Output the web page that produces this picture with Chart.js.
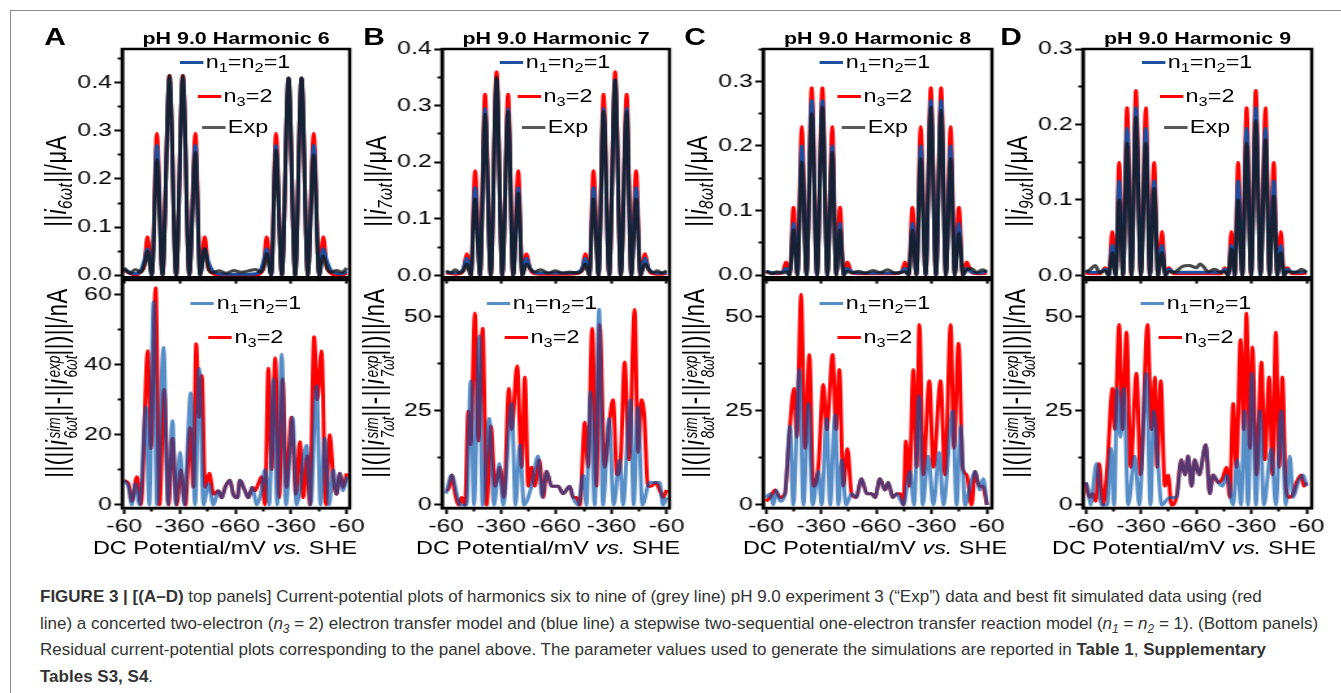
<!DOCTYPE html>
<html>
<head>
<meta charset="utf-8">
<script src="https://cdn.jsdelivr.net/npm/chart.js@4.4.0/dist/chart.umd.min.js"></script>
<style>
  html, body { margin: 0; padding: 0; background: #fff; }
  body { width: 1341px; height: 693px; position: relative; overflow: hidden;
         font-family: "Liberation Sans", Arial, Helvetica, sans-serif; }
  #frame { position: absolute; left: 10px; top: 10px; width: 1340px; height: 700px;
           border-left: 1.5px solid #8c8c8c; border-top: 1.5px solid #8c8c8c; }
  /* the source figure is stretched sideways, so the whole figure is too */
  #fig { position: absolute; left: 0; top: 0; width: 1032px; height: 570px;
         transform: scaleX(1.3); transform-origin: 0 0; }
  #fig canvas { position: absolute; }
  .t { position: absolute; white-space: nowrap; line-height: 1; color: #000;
       transform: translate(-50%, -50%); }
  .letter { font-weight: bold; font-size: 23px; }
  .title { font-weight: bold; font-size: 16.5px; }
  .xt { font-size: 18px; }
  .yt { font-size: 22px; letter-spacing: 0.5px; transform: translate(-50%, -50%) rotate(-90deg); }
  .leg { display: flex; align-items: center; font-size: 18px; }
  .sw { display: inline-block; width: 18px; height: 3px; margin-right: 2px; }
  sub { font-size: 0.7em; vertical-align: -0.3em; line-height: 0; }
  .ss { display: inline-flex; flex-direction: column; font-size: 0.62em; line-height: 0.95;
        vertical-align: 0.35em; margin-left: 1px; letter-spacing: 0; }
  #cap { position: absolute; left: 40px; top: 584px; font-size: 17px; line-height: 26.7px;
         color: #333; white-space: nowrap; }
</style>
</head>
<body>
<div id="frame"></div>
<div id="fig"></div>
<div id="cap">
  <div><b>FIGURE 3 | [(A–D)</b> top panels] Current-potential plots of harmonics six to nine of (grey line) pH 9.0 experiment 3 (“Exp”) data and best fit simulated data using (red</div>
  <div>line) a concerted two-electron (<i>n</i><sub><i>3</i></sub> = 2) electron transfer model and (blue line) a stepwise two-sequential one-electron transfer reaction model (<i>n</i><sub><i>1</i></sub> = <i>n</i><sub><i>2</i></sub> = 1). (Bottom panels)</div>
  <div>Residual current-potential plots corresponding to the panel above. The parameter values used to generate the simulations are reported in <b>Table 1</b>, <b>Supplementary</b></div>
  <div><b>Tables S3, S4</b>.</div>
</div>
<script>
// ----- x axis: swept potential, 0..1200 mV of travel (forward then back) -----
const X_TICKS = [0, 150, 300, 450, 600, 750, 900, 1050, 1200];
const X_TICK_LABELS = ['-60', '', '-360', '', '-660', '', '-360', '', '-60'];

// ----- top panels: harmonic envelopes (µA) -----
const H6_P = [0,30,60,90,108,125,149,176,206,244,280,316,351,384,409,434,452,475,510,550,590,630,670,710,735,752,768,793,818,850,886,922,956,990,1022,1051,1073,1092,1115,1145,1175,1200];
const H6_N3 = [0.01,0.004,0,0.008,0.02,0.08,0,0.295,0,0.415,0,0.415,0,0.295,0,0.08,0.02,0.004,0,0,0,0,0,0,0.004,0.02,0.08,0,0.295,0,0.41,0,0.41,0,0.295,0,0.08,0.02,0.004,0,0,0.004];
const H6_N1N2 = [0.012,0.006,0.003,0.01,0.03,0.055,0,0.27,0,0.41,0,0.41,0,0.27,0,0.055,0.03,0.01,0.003,0.002,0.002,0.002,0.002,0.003,0.01,0.03,0.055,0,0.27,0,0.41,0,0.41,0,0.27,0,0.055,0.03,0.01,0.004,0.003,0.008];
const H6_EXP = [0.015,0.004,0.012,0.006,0.02,0.05,0,0.24,0,0.415,0,0.415,0,0.255,0,0.055,0.015,0.005,0.009,0.004,0.01,0.006,0.009,0.012,0.006,0.015,0.045,0,0.26,0,0.41,0,0.41,0,0.25,0,0.04,0.015,0.006,0.01,0.006,0.015];

const H7_P = [0,25,50,75,95,112,135,158,185,212,243,275,306,338,365,393,415,438,458,480,515,555,595,635,675,710,740,757,780,802,830,857,888,920,951,983,1008,1034,1058,1083,1102,1125,1150,1175,1200];
const H7_N3 = [0.004,0.003,0.002,0.003,0.01,0.038,0,0.185,0,0.32,0,0.36,0,0.32,0,0.185,0,0.038,0.01,0.003,0.002,0.002,0.002,0.002,0.002,0.003,0.01,0.038,0,0.185,0,0.32,0,0.36,0,0.32,0,0.185,0,0.038,0.01,0.003,0.002,0.002,0.003];
const H7_N1N2 = [0.006,0.005,0.004,0.005,0.012,0.03,0,0.155,0,0.295,0,0.345,0,0.295,0,0.155,0,0.03,0.012,0.005,0.004,0.004,0.004,0.004,0.004,0.005,0.012,0.03,0,0.155,0,0.295,0,0.345,0,0.295,0,0.155,0,0.03,0.012,0.005,0.004,0.004,0.005];
const H7_EXP = [0.008,0.004,0.01,0.004,0.008,0.02,0,0.135,0,0.285,0,0.35,0,0.29,0,0.145,0,0.02,0.012,0.006,0.01,0.004,0.008,0.004,0.006,0.004,0.008,0.02,0,0.135,0,0.29,0,0.345,0,0.29,0,0.135,0,0.02,0.01,0.005,0.008,0.004,0.008];

const H8_P = [0,30,60,90,109,128,149,170,194,220,248,277,306,333,360,381,402,421,441,465,500,540,580,620,660,700,735,755,775,795,817,840,867,895,923,951,977,1003,1025,1048,1069,1090,1115,1145,1175,1200];
const H8_N3 = [0.005,0.003,0.002,0.005,0.02,0,0.105,0,0.23,0,0.29,0,0.29,0,0.23,0,0.105,0,0.02,0.004,0.002,0.002,0.002,0.002,0.002,0.002,0.004,0.02,0,0.105,0,0.23,0,0.29,0,0.29,0,0.23,0,0.105,0,0.02,0.004,0.002,0.002,0.003];
const H8_N1N2 = [0.006,0.004,0.003,0.005,0.01,0,0.08,0,0.2,0,0.27,0,0.27,0,0.2,0,0.08,0,0.01,0.005,0.003,0.003,0.003,0.003,0.003,0.003,0.005,0.01,0,0.08,0,0.2,0,0.27,0,0.27,0,0.2,0,0.08,0,0.01,0.005,0.003,0.004,0.006];
const H8_EXP = [0.006,0.002,0.005,0.003,0.005,0,0.07,0,0.175,0,0.25,0,0.26,0,0.19,0,0.07,0,0.006,0.003,0.006,0.003,0.007,0.004,0.008,0.003,0.004,0.005,0,0.07,0,0.18,0,0.26,0,0.255,0,0.18,0,0.065,0,0.008,0.01,0.004,0.008,0.005];

const H9_P = [0,25,50,75,105,125,143,162,181,202,224,248,272,299,326,348,371,392,414,432,450,480,525,561,601,620,637,664,700,735,755,773,791,809,827,850,873,898,923,949,976,998,1021,1040,1059,1077,1095,1120,1150,1171,1200];
const H9_N3 = [0.003,0.002,0.002,0.002,0.01,0,0.058,0,0.15,0,0.222,0,0.245,0,0.222,0,0.15,0,0.058,0,0.01,0.002,0.002,0.002,0.002,0.002,0.002,0.002,0.002,0.002,0.01,0,0.058,0,0.15,0,0.222,0,0.245,0,0.222,0,0.15,0,0.058,0,0.01,0.002,0.002,0.002,0.003];
const H9_N1N2 = [0.006,0.004,0.004,0.004,0.008,0,0.04,0,0.125,0,0.195,0,0.222,0,0.195,0,0.125,0,0.04,0,0.008,0.004,0.004,0.004,0.004,0.004,0.004,0.004,0.004,0.004,0.008,0,0.04,0,0.125,0,0.195,0,0.222,0,0.195,0,0.125,0,0.04,0,0.008,0.004,0.004,0.004,0.005];
const H9_EXP = [0.004,0.008,0.013,0.004,0.006,0,0.03,0,0.1,0,0.175,0,0.21,0,0.175,0,0.115,0,0.03,0,0.005,0.004,0.012,0.013,0.01,0.015,0.012,0.005,0.008,0.004,0.005,0,0.035,0,0.1,0,0.175,0,0.205,0,0.18,0,0.105,0,0.03,0,0.005,0.004,0.005,0.008,0.004];

// ----- bottom panels: residuals (nA) -----
const R6_N3_P = [0,23,41,68,90,127,144,169,190,215,239,260,283,305,330,355,373,388,404,418,436,459,481,508,526,544,570,588,610,624,651,669,691,705,723,741,759,777,795,814,836,854,875,902,926,947,965,987,1001,1024,1041,1064,1087,1109,1127,1145,1163,1180,1200];
const R6_N3 = [7,6,1,8,0,44,16,62,0,33,0,19,0,10,0,22,5,46,25,37,5,9,3,4,2,5,7,3,2,7,4,2,5,4,6,8,0,39,10,42,2,36,5,25,3,18,2,14,0,48,30,44,0,20,8,3,9,5,9];
const R6_N1N2_P = [0,23,41,59,83,117,135,158,176,212,235,260,278,301,323,359,382,404,427,454,481,508,526,544,570,588,610,624,651,669,691,714,736,759,782,804,825,849,872,908,929,983,1005,1037,1058,1082,1105,1127,1145,1163,1180,1200];
const R6_N1N2 = [7,5,0,6,0,28,0,58,0,45,0,24,0,15,0,32,0,39,0,6,0,4,2,5,7,3,2,7,4,2,5,0,3,10,0,36,0,43,0,25,0,17,0,34,0,19,0,10,3,9,4,8];

const R7_N3_P = [0,13,31,49,67,85,103,121,134,157,176,199,221,244,266,293,315,342,357,387,411,429,447,465,483,507,529,547,574,610,637,673,691,710,728,755,773,795,818,836,863,891,909,930,950,972,996,1026,1045,1063,1078,1099,1117,1140,1162,1180,1200];
const R7_N3 = [4,4,8,3,0,2,0,25,16,51,17,47,0,21,5,10,2,31,20,37,10,34,5,10,5,12,2,9,5,5,3,5,2,2,0,22,10,47,5,48,10,23,28,8,12,38,12,52,14,28,24,5,5,6,4,2,4];
const R7_N1N2_P = [0,31,58,76,112,134,152,181,199,235,261,290,311,357,378,402,424,465,501,523,547,574,610,637,673,691,719,746,764,786,809,833,854,887,912,945,963,1003,1021,1044,1068,1108,1135,1162,1180,1200];
const R7_N1N2 = [3,8,3,0,0,33,0,45,0,23,0,11,0,27,0,16,0,5,13,2,9,5,5,3,5,2,0,8,0,30,0,52,0,23,0,12,0,28,0,26,0,6,6,6,0,2];

const R8_N3_P = [0,22,49,76,103,121,152,167,190,212,235,257,284,311,329,362,380,398,420,442,465,489,519,547,574,592,619,646,664,688,710,731,746,760,778,800,818,833,854,887,909,948,972,1003,1021,1046,1068,1090,1117,1135,1158,1177,1200];
const R8_N3 = [1,2,4,2,3,15,31,18,56,15,40,5,10,32,20,40,20,36,5,15,3,2,7,3,3,2,7,4,6,2,3,3,0,17,5,36,10,48,8,33,10,33,8,48,15,43,10,8,0,9,5,5,0];
const R8_N1N2_P = [0,22,40,54,76,103,130,148,181,203,230,253,284,302,329,348,375,393,411,434,465,489,519,547,574,592,619,646,664,688,710,746,782,804,831,851,881,909,941,963,1014,1035,1057,1081,1108,1135,1162,1180,1200];
const R8_N1N2 = [2,3,0,4,1,3,21,0,36,0,27,0,9,0,23,0,24,0,12,0,3,2,7,3,3,2,7,4,6,2,3,0,9,0,29,0,13,0,14,0,25,0,21,0,5,9,4,7,0];

const R9_N3_P = [0,18,36,54,72,94,116,145,157,181,199,221,243,275,297,335,357,375,387,407,429,447,465,492,519,538,556,574,592,615,652,673,691,719,742,764,782,800,818,840,858,872,891,905,927,954,972,996,1014,1032,1050,1068,1086,1104,1126,1144,1171,1184,1200];
const R9_N3 = [6,2,3,1,11,0,10,31,20,48,20,46,10,35,8,48,20,34,10,33,5,8,0,2,12,8,13,5,12,8,16,3,8,6,7,10,2,27,10,44,20,51,15,42,8,38,12,34,8,46,10,34,5,2,3,6,8,5,6];
const R9_N1N2_P = [0,13,25,58,85,116,136,154,170,188,206,230,266,290,329,351,369,393,411,456,492,519,538,556,574,592,615,652,673,691,719,742,764,800,822,843,863,881,902,924,945,967,1008,1032,1062,1086,1108,1126,1153,1180,1200];
const R9_N1N2 = [6,4,0,11,0,0,15,0,31,18,31,0,13,0,35,0,25,10,0,2,2,12,8,13,5,12,8,16,3,8,6,5,8,0,12,0,25,0,35,0,25,0,15,0,25,0,13,2,6,8,5];

// ----- y ticks ('' = minor tick) -----
const H6_YT = [0,0.05,0.1,0.15,0.2,0.25,0.3,0.35,0.4,0.45];
const H6_YL = ['0.0','','0.1','','0.2','','0.3','','0.4',''];
const H7_YT = [0,0.05,0.1,0.15,0.2,0.25,0.3,0.35,0.4];
const H7_YL = ['0.0','','0.1','','0.2','','0.3','','0.4'];
const H8_YT = [0,0.05,0.1,0.15,0.2,0.25,0.3,0.35];
const H8_YL = ['0.0','','0.1','','0.2','','0.3',''];
const H9_YT = [0,0.05,0.1,0.15,0.2,0.25,0.3];
const H9_YL = ['0.0','','0.1','','0.2','','0.3'];
const R6_YT = [0,10,20,30,40,50,60];
const R6_YL = ['0','','20','','40','','60'];
const R_YT = [0,12.5,25,37.5,50];
const R_YL = ['0','','25','','50'];

// ----- look -----
const S = 1.3;
const RED = '#ff0000';
const NAVY = '#1b4f9f';
const EXP = 'rgba(20,20,20,0.78)';
const SKY = 'rgba(0,84,170,0.66)';
Chart.defaults.font.family = '"Liberation Sans", Arial, Helvetica, sans-serif';
Chart.defaults.color = '#000';

const fig = document.getElementById('fig');

const frame = {
  id: 'frame',
  afterDraw(c) {
    const { ctx, chartArea: a } = c;
    ctx.save();
    ctx.strokeStyle = '#000';
    ctx.lineWidth = 2.5;
    ctx.strokeRect(a.left, a.top, a.right - a.left, a.bottom - a.top);
    ctx.restore();
  }
};

const pts = (xs, ys) => xs.map((x, i) => ({ x, y: ys[i] }));
const line = (data, color, order) => ({
  data, borderColor: color, borderWidth: 3, pointRadius: 0, fill: false,
  cubicInterpolationMode: 'monotone', order
});
const majors = (vals, labels) => vals.filter((v, i) => labels[i] !== '');
const minors = (vals, labels) => vals.filter((v, i) => labels[i] === '');

function plot(box, xr, yr, yt, yl, datasets, showX) {
  const padT = 14, padR = 24, padL = 42, padB = showX ? 36 : 12;
  const w = Math.round((box.R - box.L) / S);
  const cv = document.createElement('canvas');
  cv.width = padL + w + padR;
  cv.height = padT + (box.B - box.T) + padB;
  cv.style.left = (box.L / S - padL) + 'px';
  cv.style.top = (box.T - padT) + 'px';
  fig.appendChild(cv);

  const xMaj = majors(X_TICKS, X_TICK_LABELS), xLab = X_TICK_LABELS.filter((l) => l !== '');
  const yMaj = majors(yt, yl), yLab = yl.filter((l) => l !== '');
  const major = { drawOnChartArea: false, tickLength: 6, tickWidth: 2, tickColor: '#000' };
  const minor = { drawOnChartArea: false, tickLength: 3.5, tickWidth: 2, tickColor: '#000' };

  new Chart(cv, {
    type: 'line',
    data: { datasets },
    options: {
      responsive: false, animation: false, events: [],
      layout: { padding: { top: padT, right: padR, left: 0, bottom: 0 } },
      plugins: { legend: { display: false }, tooltip: { enabled: false } },
      scales: {
        x: {
          type: 'linear', min: xr[0], max: xr[1], weight: 1,
          afterFit: (s) => { s.height = padB; },
          afterBuildTicks: (s) => { s.ticks = xMaj.map((v) => ({ value: v })); },
          ticks: { autoSkip: false, maxRotation: 0, padding: 1, font: { size: 19 },
                   callback: (v, i) => (showX ? xLab[i] : '') },
          grid: major,
          border: { color: '#000', width: 2.5 }
        },
        xm: {
          type: 'linear', position: 'bottom', min: xr[0], max: xr[1], weight: 0,
          afterFit: (s) => { s.height = 0; },
          afterBuildTicks: (s) => { s.ticks = minors(X_TICKS, X_TICK_LABELS).map((v) => ({ value: v })); },
          ticks: { display: false },
          grid: minor,
          border: { display: false }
        },
        y: {
          type: 'linear', min: yr[0], max: yr[1], weight: 1,
          afterFit: (s) => { s.width = padL; },
          afterBuildTicks: (s) => { s.ticks = yMaj.map((v) => ({ value: v })); },
          ticks: { autoSkip: false, padding: 2, font: { size: 19 },
                   callback: (v, i) => yLab[i] },
          grid: major,
          border: { color: '#000', width: 2.5 }
        },
        ym: {
          type: 'linear', position: 'left', min: yr[0], max: yr[1], weight: 0,
          afterFit: (s) => { s.width = 0; },
          afterBuildTicks: (s) => { s.ticks = minors(yt, yl).map((v) => ({ value: v })); },
          ticks: { display: false },
          grid: minor,
          border: { display: false }
        }
      }
    },
    plugins: [frame]
  });
}

function text(cls, x, y, html) {
  const d = document.createElement('div');
  d.className = 't ' + cls;
  d.style.left = (x / S) + 'px';
  d.style.top = y + 'px';
  d.innerHTML = html;
  fig.appendChild(d);
}

function legendRow(x, y, color, html) {
  text('leg', x, y, `<span class="sw" style="background:${color}"></span><span>${html}</span>`);
}

// ----- panels -----
const PANELS = [
  { letter: 'A', n: 6, L: 122, R: 350, xr: [-11, 1216], lx: 55, ty: [57, 62], lt: 235, lb: 246, xt: 225,
    top: [H6_P, H6_N3, H6_N1N2, H6_EXP], topY: [-0.005, 0.47], yt: H6_YT, yl: H6_YL,
    bot: [R6_N3_P, R6_N3, R6_N1N2_P, R6_N1N2], botY: [-0.9, 64.2], byt: R6_YT, byl: R6_YL },
  { letter: 'B', n: 7, L: 442, R: 670, xr: [-22, 1216], lx: 374, ty: [377, 380], lt: 555, lb: 542, xt: 548,
    top: [H7_P, H7_N3, H7_N1N2, H7_EXP], topY: [-0.004, 0.4], yt: H7_YT, yl: H7_YL,
    bot: [R7_N3_P, R7_N3, R7_N1N2_P, R7_N1N2], botY: [-0.8, 59.8], byt: R_YT, byl: R_YL },
  { letter: 'C', n: 8, L: 763, R: 992, xr: [-16, 1227], lx: 695, ty: [698, 700], lt: 875, lb: 875, xt: 875,
    top: [H8_P, H8_N3, H8_N1N2, H8_EXP], topY: [-0.004, 0.35], yt: H8_YT, yl: H8_YL,
    bot: [R8_N3_P, R8_N3, R8_N1N2_P, R8_N1N2], botY: [-0.8, 59.8], byt: R_YT, byl: R_YL },
  { letter: 'D', n: 9, L: 1083, R: 1312, xr: [-16, 1227], lx: 1011, ty: [1018, 1021], lt: 1197, lb: 1196, xt: 1184,
    top: [H9_P, H9_N3, H9_N1N2, H9_EXP], topY: [-0.003, 0.3], yt: H9_YT, yl: H9_YL,
    bot: [R9_N3_P, R9_N3, R9_N1N2_P, R9_N1N2], botY: [-0.8, 59.8], byt: R_YT, byl: R_YL }
];

PANELS.forEach((p) => {
  const [tp, red, blue, exp] = p.top;
  plot({ L: p.L, R: p.R, T: 49, B: 279 }, p.xr, p.topY, p.yt, p.yl, [
    line(pts(tp, exp), EXP, 0),
    line(pts(tp, blue), NAVY, 1),
    line(pts(tp, red), RED, 2)
  ], false);

  const [rp, rv, bp, bv] = p.bot;
  plot({ L: p.L, R: p.R, T: 280, B: 508 }, p.xr, p.botY, p.byt, p.byl, [
    line(pts(bp, bv), SKY, 0),
    line(pts(rp, rv), RED, 1)
  ], true);

  const c = (p.L + p.R) / 2;
  text('letter', p.lx, 36.5, p.letter);
  text('title', c, 37.5, `pH 9.0 Harmonic ${p.n}`);
  text('yt', p.ty[0], 181, `||<i>i</i><sub><i>${p.n}ωt</i></sub>||/μA`);
  text('yt', p.ty[1], 383,
    `||(||<i>i</i><span class="ss"><i>sim</i><i>${p.n}ωt</i></span>||-||<i>i</i><span class="ss"><i>exp</i><i>${p.n}ωt</i></span>||)||/nA`);
  text('xt', p.xt, 548, 'DC Potential/mV <i>vs.</i> SHE');

  legendRow(p.lt, 62, NAVY, 'n<sub>1</sub>=n<sub>2</sub>=1');
  legendRow(p.lt, 96, RED, 'n<sub>3</sub>=2');
  legendRow(p.lt, 127, '#595959', 'Exp');
  legendRow(p.lb, 303, '#578ec7', 'n<sub>1</sub>=n<sub>2</sub>=1');
  legendRow(p.lb, 337, RED, 'n<sub>3</sub>=2');
});
</script>
</body>
</html>
